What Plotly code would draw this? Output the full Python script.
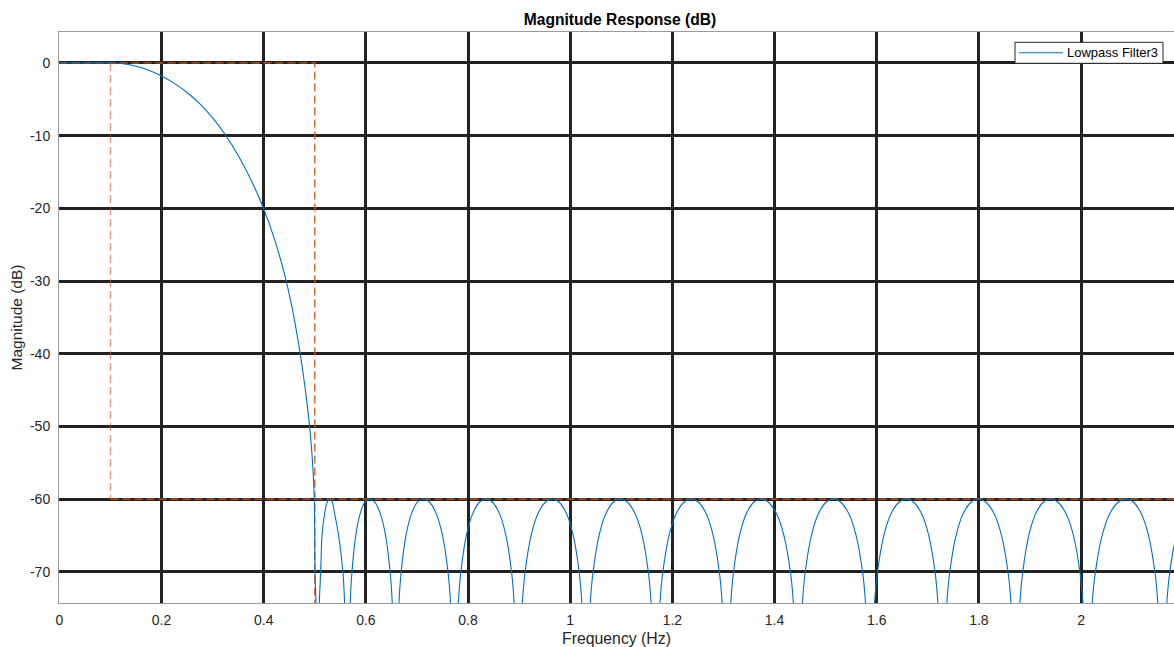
import plotly.graph_objects as go

# ---- data ----
# passband and transition band of the filter (Hz, dB)
pass_freq = [0, 0.05, 0.1, 0.125, 0.15, 0.175, 0.2, 0.225, 0.25, 0.275, 0.3,
             0.325, 0.35, 0.375, 0.4, 0.42, 0.44, 0.455, 0.47, 0.48, 0.489,
             0.494, 0.4988, 0.5004, 0.5023, 0.5055]
pass_mag = [0, 0, 0, -0.11, -0.45, -1.01, -1.8, -2.81, -4.07, -5.63, -7.56,
            -9.91, -12.72, -16.06, -20.1, -24.03, -28.88, -33.49, -39.38, -44.18, -49.49,
            -53.39, -59.6, -70.0, -74.3, -90.0]

# stopband lobes (Hz, dB)
stop_freq = [
    0.5088, 0.5114, 0.5141, 0.5192, 0.5243, 0.529, 0.534, 0.5388, 0.5466, 0.5552, 0.5583, 0.564,
    0.5693, 0.5725, 0.5802, 0.5888, 0.5982, 0.6067, 0.617, 0.6282, 0.6385, 0.6477, 0.6516, 0.658,
    0.6647, 0.6688, 0.6785, 0.6893, 0.7012, 0.712, 0.7243, 0.7377, 0.75, 0.761, 0.7657, 0.7733,
    0.781, 0.7856, 0.7967, 0.8091, 0.8227, 0.835, 0.8476, 0.8615, 0.8741, 0.8854, 0.8902, 0.898,
    0.9063, 0.9114, 0.9235, 0.9369, 0.9516, 0.965, 0.9782, 0.9927, 1.0059, 1.0178, 1.0228, 1.031,
    1.0393, 1.0444, 1.0565, 1.0699, 1.0846, 1.098, 1.1118, 1.127, 1.1408, 1.1532, 1.1584, 1.167,
    1.1757, 1.181, 1.1936, 1.2076, 1.223, 1.237, 1.2508, 1.266, 1.2798, 1.2922, 1.2974, 1.306,
    1.3143, 1.3194, 1.3315, 1.3449, 1.3596, 1.373, 1.3876, 1.4037, 1.4183, 1.4314, 1.4369, 1.446,
    1.4546, 1.4598, 1.4722, 1.486, 1.5012, 1.515, 1.5294, 1.5452, 1.5596, 1.5726, 1.5781, 1.587,
    1.5958, 1.6012, 1.614, 1.6282, 1.6438, 1.658, 1.6721, 1.6877, 1.7018, 1.7145, 1.7198, 1.7286,
    1.7373, 1.7427, 1.7554, 1.7694, 1.7849, 1.799, 1.8136, 1.8297, 1.8443, 1.8574, 1.8629, 1.872,
    1.8804, 1.8856, 1.8978, 1.9114, 1.9264, 1.940, 1.9545, 1.9705, 1.9851, 1.9982, 2.0037, 2.0127,
    2.022, 2.0278, 2.0413, 2.0564, 2.0729, 2.088, 2.1022, 2.1179, 2.1321, 2.1449, 2.1503, 2.1591,
    2.168, 2.1735, 2.1864, 2.2008, 2.2166, 2.231, 2.2452, 2.2608, 2.275, 2.2878, 2.2932, 2.302,
]
stop_mag = [
    -74.3, -70.2, -65, -62, -60.4, -60, -60.4, -62, -65, -70.2, -74.3, -90,
    -74.3, -70.2, -65, -62, -60.4, -60, -60.4, -62, -65, -70.2, -74.3, -90,
    -74.3, -70.2, -65, -62, -60.4, -60, -60.4, -62, -65, -70.2, -74.3, -90,
    -74.3, -70.2, -65, -62, -60.4, -60, -60.4, -62, -65, -70.2, -74.3, -90,
    -74.3, -70.2, -65, -62, -60.4, -60, -60.4, -62, -65, -70.2, -74.3, -90,
    -74.3, -70.2, -65, -62, -60.4, -60, -60.4, -62, -65, -70.2, -74.3, -90,
    -74.3, -70.2, -65, -62, -60.4, -60, -60.4, -62, -65, -70.2, -74.3, -90,
    -74.3, -70.2, -65, -62, -60.4, -60, -60.4, -62, -65, -70.2, -74.3, -90,
    -74.3, -70.2, -65, -62, -60.4, -60, -60.4, -62, -65, -70.2, -74.3, -90,
    -74.3, -70.2, -65, -62, -60.4, -60, -60.4, -62, -65, -70.2, -74.3, -90,
    -74.3, -70.2, -65, -62, -60.4, -60, -60.4, -62, -65, -70.2, -74.3, -90,
    -74.3, -70.2, -65, -62, -60.4, -60, -60.4, -62, -65, -70.2, -74.3, -90,
    -74.3, -70.2, -65, -62, -60.4, -60, -60.4, -62, -65, -70.2, -74.3, -90,
    -74.3, -70.2, -65, -62, -60.4, -60, -60.4, -62, -65, -70.2, -74.3, -90,
]

# specification mask
mask_pass_freq = [0, 0.5, 0.5]
mask_pass_mag = [0, 0, -80]
mask_edge_freq = [0.1, 0.1]
mask_edge_mag = [0, -60]
mask_stop_freq = [0.1, 2.3]
mask_stop_mag = [-60, -60]

x_ticks = [0, 0.2, 0.4, 0.6, 0.8, 1, 1.2, 1.4, 1.6, 1.8, 2]
x_labels = ["0", "0.2", "0.4", "0.6", "0.8", "1", "1.2", "1.4", "1.6", "1.8", "2"]
y_ticks = [0, -10, -20, -30, -40, -50, -60, -70]
y_labels = ["0", "-10", "-20", "-30", "-40", "-50", "-60", "-70"]
legend_name = "Lowpass Filter3"

freq = pass_freq + stop_freq
mag = pass_mag + stop_mag

MASK = "#D95319"
BLUE = "#0072BD"
TXT = "#262626"
GRID = "#222222"
FONT = "Liberation Sans, Arial, sans-serif"

W, H = 1174, 647
L, T, B = 59, 32, 44
PW, PH = W - L, H - T - B


def px_x(p):
    return (p - L) / PW


def px_y(p):
    return 1 - (p - T) / PH


fig = go.Figure()
fig.add_trace(go.Scatter(x=mask_edge_freq, y=mask_edge_mag, mode="lines",
                         line=dict(color="rgba(217,83,25,0.6)", width=1.3, dash="8px,4px"),
                         showlegend=False, hoverinfo="skip"))
fig.add_trace(go.Scatter(x=mask_pass_freq, y=mask_pass_mag, mode="lines",
                         line=dict(color=MASK, width=1.3, dash="8px,4px"),
                         showlegend=False, hoverinfo="skip"))
fig.add_trace(go.Scatter(x=mask_stop_freq, y=mask_stop_mag, mode="lines",
                         line=dict(color=MASK, width=1.3, dash="8px,4px"),
                         showlegend=False, hoverinfo="skip"))
fig.add_trace(go.Scatter(x=freq, y=mag, mode="lines", name=legend_name, showlegend=False,
                         line=dict(color=BLUE, width=1.1, shape="spline", smoothing=0.8)))

axis_common = dict(
    showgrid=True, gridcolor=GRID, gridwidth=3,
    zeroline=True, zerolinecolor=GRID, zerolinewidth=3,
    showline=True, linecolor="#9a9a9a", linewidth=1, mirror=True,
    ticks="", tickfont=dict(size=14, color=TXT, family=FONT),
)

fig.update_xaxes(range=[-0.0008, 2.182], tickvals=x_ticks, ticktext=x_labels,
                 title=dict(text="Frequency (Hz)", standoff=7,
                            font=dict(size=15.8, color=TXT, family=FONT)),
                 ticklabelstandoff=4, **axis_common)
fig.update_yaxes(range=[-74.3, 4.26], tickvals=y_ticks, ticktext=y_labels,
                 title=dict(text="Magnitude (dB)", standoff=3,
                            font=dict(size=15.5, color=TXT, family=FONT)),
                 ticklabelstandoff=5, **axis_common)

# legend box drawn like the reference (MATLAB style)
fig.add_shape(type="rect", xref="paper", yref="paper",
              x0=px_x(1015), x1=px_x(1163), y0=px_y(63.3), y1=px_y(42.3),
              fillcolor="white", line=dict(color=TXT, width=1), layer="above")
fig.add_shape(type="line", xref="paper", yref="paper",
              x0=px_x(1019), x1=px_x(1063), y0=px_y(52.7), y1=px_y(52.7),
              line=dict(color=BLUE, width=1.1), layer="above")
fig.add_annotation(text=legend_name, xref="paper", yref="paper",
                   x=px_x(1065), y=px_y(52.7), xanchor="left", yanchor="middle",
                   showarrow=False, font=dict(size=13, color="#000000", family=FONT))

fig.update_layout(
    width=W, height=H,
    margin=dict(l=L, r=0, t=T, b=B, autoexpand=False),
    paper_bgcolor="white", plot_bgcolor="white",
    font=dict(family=FONT, color=TXT),
    title=dict(text="<b>Magnitude Response (dB)</b>", x=620 / W, xref="container",
               xanchor="center", y=1 - 20 / H, yref="container", yanchor="middle",
               font=dict(size=15.6, color="#000000", family=FONT)),
    showlegend=False,
)

fig.write_html("out.html",
               config={"displayModeBar": False},
               post_script="document.body.style.margin='0';"
                           "document.body.style.overflow='hidden';"
                           "document.documentElement.style.overflow='hidden';")
